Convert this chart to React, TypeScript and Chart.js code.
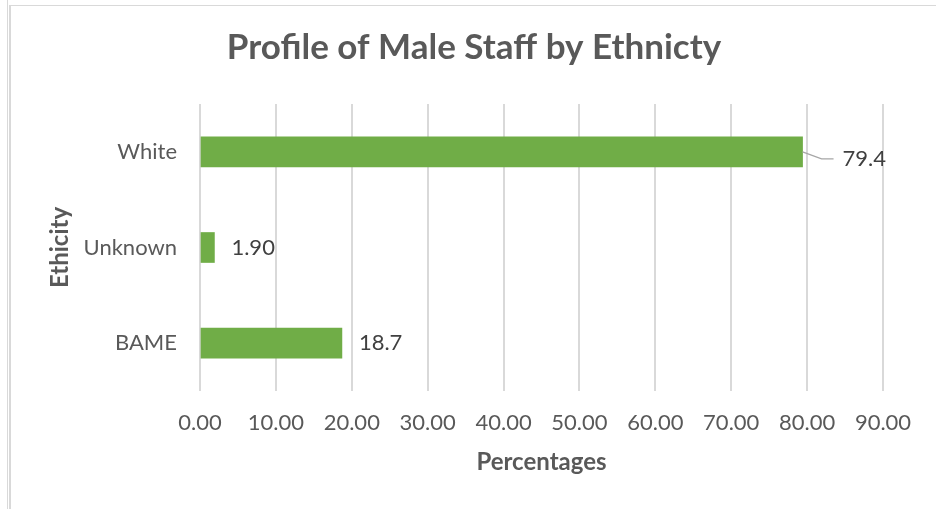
import React, { useEffect, useRef } from "react";
import { Chart, registerables } from "chart.js";

Chart.register(...registerables);

const TITLE = "Profile of Male Staff by Ethnicty";
const CATEGORIES = ["White", "Unknown", "BAME"];
const VALUES = [79.4, 1.9, 18.7];
const VALUE_LABELS = ["79.4", "1.90", "18.7"];
const X_TICKS = [0, 10, 20, 30, 40, 50, 60, 70, 80, 90];
const X_TITLE = "Percentages";
const Y_TITLE = "Ethicity";

const FONT = "Lato, 'Open Sans', sans-serif";
const TEXT = "#595959";

const titlePlugin = {
  id: "centeredTitle",
  afterDraw(chart: any) {
    const { ctx } = chart;
    ctx.save();
    ctx.font = `bold 35px ${FONT}`;
    ctx.fillStyle = TEXT;
    ctx.textAlign = "center";
    ctx.textBaseline = "middle";
    ctx.fillText(TITLE, 474, 48);
    ctx.restore();
  },
};

const dataLabelPlugin = {
  id: "dataLabels",
  afterDatasetsDraw(chart: any) {
    const { ctx } = chart;
    const meta = chart.getDatasetMeta(0);
    ctx.save();
    ctx.font = `22px ${FONT}`;
    ctx.fillStyle = "#404040";
    ctx.textBaseline = "middle";
    ctx.textAlign = "left";
    meta.data.forEach((bar: any, i: number) => {
      const text = VALUE_LABELS[i];
      if (i === 0) {
        // moved label with a leader line
        const lx = bar.x + 40;
        const ly = bar.y + 7;
        ctx.strokeStyle = "#A6A6A6";
        ctx.lineWidth = 1.2;
        ctx.beginPath();
        ctx.moveTo(bar.x, bar.y);
        ctx.lineTo(bar.x + 19, ly);
        ctx.lineTo(bar.x + 31, ly);
        ctx.stroke();
        ctx.fillText(text, lx, ly);
      } else {
        ctx.fillText(text, bar.x + 17, bar.y);
      }
    });
    ctx.restore();
  },
};

export default function App() {
  const ref = useRef<HTMLCanvasElement>(null);

  useEffect(() => {
    if (!ref.current) return;
    const chart = new Chart(ref.current, {
      type: "bar",
      data: {
        labels: CATEGORIES,
        datasets: [
          {
            data: VALUES,
            backgroundColor: "#70AD47",
            borderWidth: 0,
            barThickness: 30,
          },
        ],
      },
      plugins: [dataLabelPlugin, titlePlugin],
      options: {
        indexAxis: "y",
        responsive: false,
        animation: false,
        layout: { padding: { left: 0, right: 53, top: 104, bottom: 0 } },
        plugins: {
          legend: { display: false },
          tooltip: { enabled: false },
          title: { display: false },
        },
        scales: {
          x: {
            type: "linear",
            min: 0,
            max: 90,
            afterBuildTicks: (scale: any) => {
              scale.ticks = X_TICKS.map((v) => ({ value: v }));
            },
            afterFit: (scale: any) => {
              scale.height = 118;
            },
            ticks: {
              color: TEXT,
              font: { family: FONT, size: 22 },
              padding: 19,
              maxRotation: 0,
              callback: (v: any) => Number(v).toFixed(2),
            },
            grid: {
              color: "#D9D9D9",
              lineWidth: 2,
              drawTicks: false,
            },
            border: { display: false },
            title: {
              display: true,
              text: X_TITLE,
              color: TEXT,
              font: { family: FONT, size: 24, weight: "bold", lineHeight: 1.2 },
              padding: { top: 0, bottom: 32.6 },
            },
          },
          y: {
            type: "category",
            afterFit: (scale: any) => {
              scale.width = 200;
            },
            ticks: {
              color: TEXT,
              font: { family: FONT, size: 22 },
              padding: 23,
            },
            grid: { display: false, drawTicks: false },
            border: { display: false },
            title: {
              display: true,
              text: Y_TITLE,
              color: TEXT,
              font: { family: FONT, size: 24, weight: "bold", lineHeight: 1.2 },
              padding: { top: 45.6, bottom: 0 },
            },
          },
        },
      },
    } as any);
    return () => chart.destroy();
  }, []);

  return (
    <div
      style={{
        position: "absolute",
        left: 0,
        top: 0,
        width: 936,
        height: 509,
        background: "#ffffff",
        overflow: "hidden",
      }}
    >
      <canvas
        ref={ref}
        width={936}
        height={509}
        style={{ position: "absolute", left: 0, top: 0, width: 936, height: 509 }}
      />
      <div style={{ position: "absolute", left: 10, right: 0, top: 5, height: 1, background: "#D9D9D9" }} />
      <div style={{ position: "absolute", left: 7, top: 0, bottom: 0, width: 1, background: "#D9D9D9" }} />
      <div style={{ position: "absolute", left: 9, top: 5, bottom: 0, width: 2, background: "#D9D9D9" }} />
    </div>
  );
}
